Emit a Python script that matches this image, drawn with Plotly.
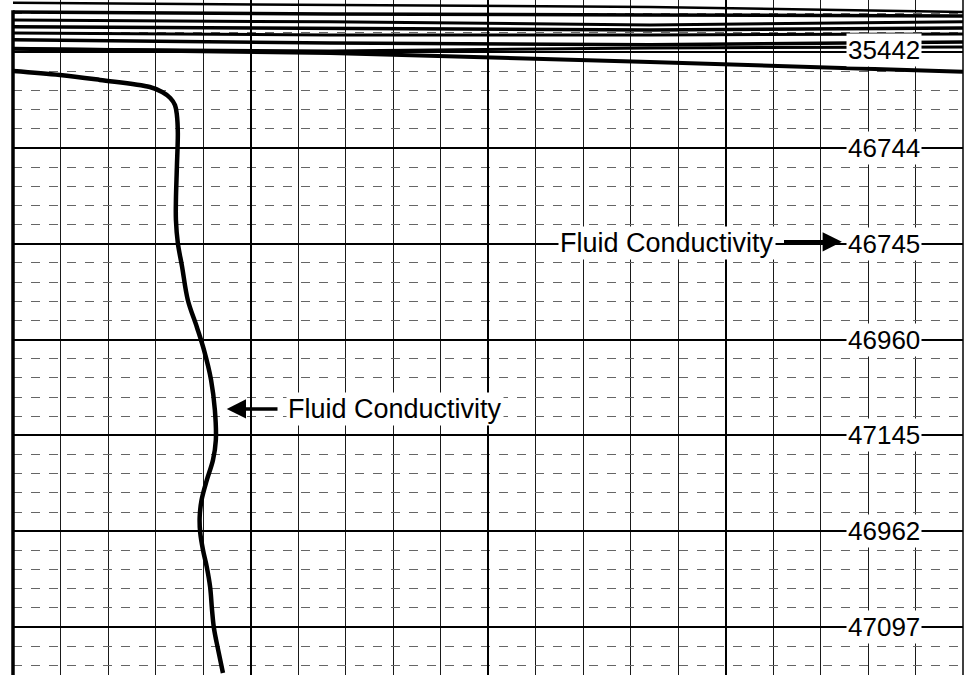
import plotly.graph_objects as go

# Grid units: x = chart divisions (0..20), y = depth divisions (5 per solid line)
curve_x = [0.0, 0.99, 1.83, 2.88, 3.14, 3.31, 3.41, 3.45, 3.47, 3.45, 3.43, 3.43, 3.47,
           3.56, 3.68, 3.87, 4.02, 4.17, 4.25, 4.27, 4.21, 4.08, 3.97, 3.93, 3.94,
           4.00, 4.08, 4.15, 4.19, 4.23, 4.32, 4.42]
curve_y = [0.98, 1.19, 1.45, 1.82, 2.08, 2.39, 2.76, 3.28, 4.22, 6.0, 7.71, 8.76, 9.96,
           11.2, 12.93, 14.34, 15.54, 17.11, 18.68, 20.24, 21.28, 22.33, 23.37, 24.26, 25.04,
           25.98, 26.87, 27.91, 29.11, 30.05, 31.2, 32.4]

header_x = [0.0, 6.67, 13.41, 20.0]
header_lines = [
    [-2.57, -2.46, -2.36, -2.10],
    [-2.10, -1.99, -1.94, -1.89],
    [-1.68, -1.58, -1.42, -1.58],
    [-1.32, -1.26, -1.16, -1.26],
    [-1.00, -0.90, -0.90, -0.95],
    [-0.64, -0.48, -0.38, -0.53],
    [-0.17, -0.06, -0.22, -0.27],
    [-0.17, 0.04, 0.51, 1.03],
]
header_widths = [2.5, 3.5, 3, 3.5, 3, 3.5, 3, 4]

depth_labels = ["35442", "46744", "46745", "46960", "47145", "46962", "47097"]
depth_label_y = [-0.1, 5, 10, 15, 20, 25, 30]
label_x = 18.34

series_name = "Fluid Conductivity"

fig = go.Figure()

for ys, w in zip(header_lines, header_widths):
    fig.add_trace(go.Scatter(x=header_x, y=ys, mode="lines",
                             line=dict(color="black", width=w), showlegend=False,
                             hoverinfo="skip"))

fig.add_trace(go.Scatter(x=curve_x, y=curve_y, mode="lines", name=series_name,
                         line=dict(color="black", width=4.5, shape="spline"),
                         showlegend=False))

font_main = dict(family="Liberation Sans, Arial, sans-serif", color="black")

for txt, yv in zip(depth_labels, depth_label_y):
    fig.add_annotation(x=label_x, y=yv, text=txt, showarrow=False,
                       font=dict(size=26, **font_main), bgcolor="white", borderpad=1)

# upper label with arrow to the right
fig.add_annotation(x=13.77, y=9.95, text=series_name, showarrow=False,
                   font=dict(size=27, **font_main), bgcolor="white", borderpad=1)
fig.add_annotation(x=17.45, y=9.9, ax=16.2, ay=9.9, axref="x", ayref="y",
                   text="", showarrow=True, arrowhead=2, arrowsize=1.1,
                   arrowwidth=3.5, arrowcolor="black")

# lower label with arrow to the left
fig.add_annotation(x=8.04, y=18.62, text=series_name, showarrow=False,
                   font=dict(size=27, **font_main), bgcolor="white", borderpad=1)
fig.add_annotation(x=4.5, y=18.62, ax=5.6, ay=18.62, axref="x", ayref="y",
                   text="", showarrow=True, arrowhead=2, arrowsize=1.1,
                   arrowwidth=3.5, arrowcolor="black")

fig.update_xaxes(range=[0, 20], tick0=0, dtick=5, showgrid=True, gridcolor="black",
                 gridwidth=2.2, showticklabels=False, ticks="", zeroline=False,
                 showline=False,
                 minor=dict(tick0=0, dtick=1, showgrid=True, gridcolor="#1a1a1a",
                            gridwidth=1.3))
fig.update_yaxes(range=[32.5, -2.72], tick0=0, dtick=5, showgrid=True, gridcolor="black",
                 gridwidth=1.8, showticklabels=False, ticks="", zeroline=False,
                 showline=False,
                 minor=dict(tick0=0, dtick=1, showgrid=True, gridcolor="#666666",
                            gridwidth=1, griddash="dash"))

fig.add_shape(type="line", xref="paper", yref="paper", x0=0, x1=0, y0=0, y1=0.985,
              line=dict(color="black", width=3.5))
fig.add_shape(type="line", xref="paper", yref="paper", x0=1, x1=1, y0=0, y1=1,
              line=dict(color="black", width=1.5))

fig.update_layout(width=972, height=675, margin=dict(l=13, r=9, t=0, b=0),
                  paper_bgcolor="white", plot_bgcolor="white", showlegend=False)

fig.write_html("out.html", config={"displayModeBar": False},
               post_script="document.body.style.margin='0';document.body.style.overflow='hidden';")
